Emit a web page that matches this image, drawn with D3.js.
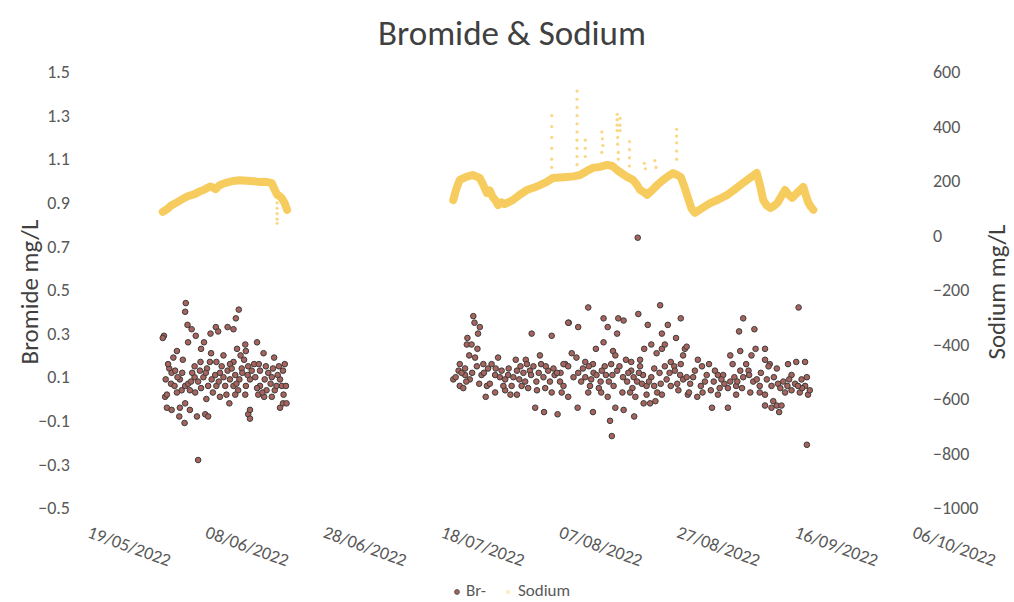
<!DOCTYPE html>
<html>
<head>
<meta charset="utf-8">
<script src="https://cdn.jsdelivr.net/npm/d3@7"></script>
<style>
  body { margin: 0; background: #fff; }
  text { font-family: Calibri, Carlito, "Liberation Sans", Arial, sans-serif; }
</style>
</head>
<body>
<div id="chart"></div>
<script>
// ---------------- data (day = days after 19/05/2022) ----------------
var startDate = "19/05/2022";
var xTickLabels = ["19/05/2022", "08/06/2022", "28/06/2022", "18/07/2022", "07/08/2022", "27/08/2022", "16/09/2022", "06/10/2022"];
var leftTicks = [-0.5, -0.3, -0.1, 0.1, 0.3, 0.5, 0.7, 0.9, 1.1, 1.3, 1.5];
var rightTicks = [-1000, -800, -600, -400, -200, 0, 200, 400, 600];

// Br- (mg/L) [day, value]
var brPoints = [
  [15.4,0.44],[15.3,0.40],[24.4,0.41],[23.9,0.37],[11.7,0.29],[11.5,0.28],[15.7,0.34],[16.4,0.32],[17.1,0.29],[19.6,0.30],
  [20.5,0.33],[20.9,0.31],[22.5,0.33],[23.5,0.32],[15.8,0.26],[18.5,0.26],[27.5,0.26],[13.9,0.22],[18.0,0.23],[19.7,0.21],
  [24.1,0.23],[25.5,0.25],[25.6,0.22],[28.6,0.21],[13.3,0.19],[14.9,0.18],[16.9,0.15],[17.9,0.17],[20.6,0.17],[21.8,0.20],
  [23.5,0.17],[24.7,0.20],[25.3,0.18],[30.4,0.19],[32.2,0.16],[12.6,0.14],[13.0,0.12],[12.0,0.09],[13.6,0.13],[14.4,0.09],
  [15.3,0.06],[16.1,0.04],[16.9,0.10],[18.4,0.10],[19.2,0.06],[19.8,0.09],[20.4,0.11],[21.2,0.12],[21.8,0.10],[22.5,0.13],
  [22.9,0.09],[23.8,0.11],[24.5,0.09],[24.9,0.14],[25.6,0.06],[26.6,0.13],[27.2,0.10],[28.0,0.13],[28.8,0.09],[29.4,0.12],
  [30.0,0.10],[30.5,0.04],[31.4,0.09],[31.9,0.13],[31.7,0.06],[15.8,0.07],[14.7,0.04],[17.5,0.08],[20.6,0.06],[22.1,0.06],
  [23.5,0.06],[24.3,0.04],[26.3,0.09],[28.0,0.06],[29.1,0.04],[11.9,0.01],[12.2,-0.04],[13.0,-0.05],[14.4,-0.04],[15.3,-0.02],
  [16.1,-0.05],[14.3,-0.08],[15.2,-0.11],[17.3,-0.08],[18.7,-0.07],[19.2,-0.08],[22.8,-0.02],[26.0,-0.07],[26.3,-0.09],[26.3,-0.05],
  [27.7,0.02],[28.7,0.01],[31.4,-0.04],[31.9,-0.02],[17.5,-0.28],[12.2,0.02],[13.9,0.03],[18.9,0.00],[21.2,0.01],[23.8,0.02],
  [25.5,0.02],[30.0,0.01],[30.8,0.06],[32.5,-0.02],[32.4,0.06],[12.9,0.07],[14.0,0.10],[16.5,0.12],[18.0,0.05],[19.0,0.14],
  [21.5,0.15],[22.9,0.16],[25.0,0.12],[26.0,0.15],[27.5,0.05],[29.0,0.15],[30.2,0.14],[31.0,0.11],[27.0,0.16],[20.0,0.03],
  [17.8,0.13],[12.4,0.16],[13.5,0.06],[14.8,0.12],[16.3,0.08],[17.0,0.03],[18.8,0.12],[19.5,0.17],[21.0,0.08],[22.3,0.02],
  [23.2,0.14],[24.0,0.07],[25.9,0.11],[27.8,0.16],[28.4,0.03],[29.8,0.07],[31.2,0.15],[32.0,0.02],
  [64.2,0.38],[64.4,0.35],[65.3,0.33],[65.0,0.30],[63.2,0.28],[63.1,0.25],[63.9,0.25],[64.9,0.23],[63.5,0.20],[64.5,0.19],
  [74.1,0.30],[77.5,0.29],[80.4,0.35],[75.5,0.20],[68.4,0.19],[71.4,0.18],[73.1,0.18],[61.9,0.16],[61.7,0.13],[62.8,0.11],
  [60.8,0.09],[61.9,0.06],[63.6,0.09],[64.8,0.15],[65.9,0.16],[66.7,0.14],[67.3,0.16],[67.9,0.11],[68.7,0.10],[69.6,0.09],
  [66.5,0.06],[66.3,0.01],[67.9,0.03],[69.6,0.04],[70.7,0.06],[71.6,0.02],[71.6,0.13],[72.7,0.12],[73.8,0.13],[73.3,0.16],
  [74.4,0.15],[75.7,0.16],[72.4,0.06],[73.5,0.05],[74.9,0.08],[76.1,0.10],[76.9,0.13],[77.8,0.14],[76.4,0.05],[77.5,0.03],
  [78.9,0.08],[79.8,0.16],[74.7,-0.04],[76.2,-0.06],[78.5,-0.07],[67.0,0.07],[70.1,0.11],[71.0,0.10],[62.8,0.14],[65.6,0.11],
  [62.2,0.12],[63.0,0.08],[69.0,0.13],[70.2,0.14],[72.0,0.09],[75.3,0.12],[78.0,0.11],[79.0,0.12],
  [61.2,0.10],[62.5,0.05],[64.0,0.12],[65.2,0.07],[66.0,0.12],[68.0,0.14],[69.3,0.06],[70.5,0.02],[72.2,0.15],[73.0,0.08],
  [74.0,0.11],[75.0,0.04],[76.5,0.15],[77.2,0.08],[78.4,0.12],[79.2,0.03],
  [83.7,0.42],[80.3,0.35],[82.0,0.33],[86.3,0.37],[88.8,0.37],[89.7,0.36],[92.2,0.39],[95.9,0.43],[99.4,0.37],[87.0,0.33],
  [88.6,0.30],[93.8,0.34],[97.2,0.34],[96.2,0.30],[98.6,0.28],[86.3,0.26],[85.0,0.23],[94.4,0.25],[93.2,0.23],[87.9,0.22],
  [88.3,0.20],[80.9,0.21],[81.7,0.19],[95.3,0.21],[96.2,0.23],[96.7,0.25],[100.1,0.23],[99.8,0.20],[83.2,0.17],[84.5,0.16],
  [86.5,0.15],[87.6,0.16],[90.1,0.18],[91.0,0.17],[92.5,0.18],[92.5,0.15],[97.7,0.17],[98.3,0.15],[99.4,0.16],[79.5,0.16],
  [80.3,0.15],[82.0,0.12],[83.8,0.15],[84.6,0.12],[85.1,0.11],[86.7,0.11],[88.6,0.13],[89.6,0.10],[91.0,0.13],[91.4,0.10],
  [93.0,0.11],[94.4,0.10],[94.9,0.14],[96.7,0.15],[98.4,0.13],[99.3,0.11],[99.8,0.09],[79.5,0.06],[80.3,0.01],[83.2,0.10],
  [84.0,0.06],[83.7,0.03],[85.5,0.05],[85.9,0.03],[87.0,0.01],[87.2,0.08],[89.5,0.03],[90.3,0.08],[91.2,0.05],[91.7,0.01],
  [92.8,0.07],[93.6,0.06],[93.6,0.02],[94.9,0.06],[95.4,0.03],[96.2,0.02],[95.1,-0.01],[94.2,-0.02],[93.1,-0.02],[97.7,0.06],
  [100.6,0.02],[81.9,-0.04],[84.5,-0.06],[88.3,-0.04],[89.7,-0.05],[91.5,-0.08],[87.4,-0.10],[87.7,-0.17],[92.1,0.74],
  [90.5,0.12],[92.0,0.08],[95.8,0.12],[97.0,0.09],[98.8,0.07],[82.5,0.08],[85.8,0.08],[88.0,0.06],
  [81.2,0.10],[82.8,0.14],[84.2,0.09],[86.0,0.13],[87.8,0.11],[89.0,0.15],[90.8,0.03],[92.3,0.12],[94.0,0.08],[96.0,0.07],
  [97.5,0.12],[99.0,0.04],
  [119.4,0.42],[110.0,0.37],[109.3,0.31],[111.9,0.32],[100.4,0.24],[107.8,0.20],[109.5,0.22],[112.1,0.23],[113.7,0.23],[111.4,0.20],
  [102.3,0.18],[103.0,0.15],[104.2,0.16],[108.2,0.16],[110.5,0.16],[113.7,0.18],[114.5,0.16],[117.6,0.16],[119.0,0.17],[120.5,0.17],
  [115.7,0.14],[114.3,0.15],[109.5,0.13],[110.9,0.13],[100.4,0.10],[101.5,0.10],[103.8,0.11],[105.7,0.11],[106.6,0.11],[108.5,0.10],
  [110.0,0.10],[111.7,0.08],[112.3,0.09],[118.2,0.11],[119.9,0.09],[120.5,0.06],[100.8,0.03],[102.2,0.01],[103.1,0.03],[104.5,0.04],
  [105.7,0.02],[106.8,0.07],[107.4,0.05],[108.8,0.06],[108.8,0.02],[111.2,0.03],[112.8,0.03],[113.7,0.02],[114.8,0.06],[115.9,0.07],
  [116.8,0.08],[117.1,0.03],[118.2,0.04],[119.6,0.03],[121.0,0.02],[115.1,-0.01],[115.7,-0.03],[116.5,-0.03],[113.7,-0.03],[114.8,-0.04],
  [104.7,-0.04],[107.4,-0.04],[116.1,-0.06],[120.8,-0.21],
  [101.0,0.07],[102.8,0.06],[105.0,0.08],[106.0,0.05],[109.0,0.08],[112.8,0.06],[117.5,0.06],[118.8,0.07],[120.0,0.05],[121.3,0.04],
  [101.8,0.13],[103.5,0.08],[105.2,0.13],[106.3,0.09],[107.8,0.08],[109.8,0.05],[111.0,0.11],[113.0,0.12],[114.0,0.09],[115.2,0.10],
  [116.3,0.05],[117.8,0.09],[119.3,0.06],[120.8,0.10]
];

// Sodium (mg/L) [day, value], two logging periods
var sodiumPart1 = [
  [11.5,87],[12.3,98],[12.8,108],[13.6,118],[14.4,128],[15.2,138],[16.0,146],[16.9,152],[17.8,162],[18.5,168],
  [19.0,174],[19.6,180],[20.0,176],[20.5,170],[21.0,182],[21.7,190],[22.5,195],[23.4,200],[24.6,203],[25.8,201],
  [27.0,199],[28.0,196],[29.0,197],[30.0,192],[30.4,172],[30.9,150],[31.3,145],[31.7,137],[32.2,118],[32.6,94]
];
var sodiumPart2 = [
  [60.8,130],[61.3,170],[61.9,204],[63.0,215],[64.1,222],[65.3,211],[65.9,185],[66.5,156],[67.0,165],[67.5,141],
  [68.0,128],[68.4,112],[69.0,122],[69.5,115],[70.2,122],[70.9,130],[72.0,148],[73.3,167],[74.4,175],[75.5,185],
  [76.6,196],[77.7,211],[78.9,213],[80.1,215],[81.2,217],[82.3,222],[83.4,236],[84.5,248],[85.7,252],[86.9,259],
  [87.8,255],[88.6,240],[89.4,228],[90.3,215],[91.3,204],[91.9,188],[92.5,167],[93.1,160],[93.7,149],[94.5,165],
  [95.4,185],[96.2,200],[97.1,215],[98.1,229],[98.8,222],[99.4,215],[100.0,180],[100.6,140],[101.2,100],[101.8,83],
  [103.0,100],[104.4,119],[105.8,132],[107.3,149],[108.6,170],[110.0,193],[111.2,212],[112.3,229],[112.9,180],[113.4,130],
  [114.0,110],[114.6,101],[115.2,108],[115.8,119],[116.5,145],[117.1,167],[117.7,150],[118.3,138],[119.2,158],[120.2,178],
  [120.6,150],[121.0,123],[121.5,105],[121.9,94]
];
// isolated sodium readings (spikes / dips)
var sodiumSpikes = [
  [77.5,440],[77.5,400],[77.5,360],[77.5,320],[77.5,280],[77.5,250],
  [81.8,530],[81.8,500],[81.8,470],[81.8,440],[81.8,410],[81.8,380],[81.8,350],[81.8,320],[81.8,290],[81.8,260],
  [83.2,350],[83.2,320],[83.2,290],
  [86.0,380],[86.1,355],[86.2,330],[86.0,305],
  [88.6,445],[88.6,425],[88.6,405],[88.6,385],[88.7,360],[88.7,335],[88.8,305],[88.8,280],
  [89.1,430],[89.1,405],[89.1,385],
  [90.7,345],[90.7,315],[90.7,285],[90.7,255],
  [93.2,265],[93.4,245],[95.0,275],[95.2,250],
  [98.7,390],[98.7,365],[98.7,340],[98.7,310],[98.7,280],
  [30.9,140],[30.9,120],[30.9,100],[30.9,80],[30.9,60],[30.9,45]
];

function renderChart() {
  var attrs = {
    svgWidth: 1014,
    svgHeight: 602,
    marginTop: 72,
    marginBottom: 94,
    marginLeft: 95,
    marginRight: 94,
    brFill: '#a8645c',
    brStroke: '#3c3c3c',
    sodiumColor: '#f6c64e',
    textColor: '#595959',
    titleColor: '#404040'
  };

  var calc = {};
  calc.chartWidth = attrs.svgWidth - attrs.marginLeft - attrs.marginRight;
  calc.chartHeight = attrs.svgHeight - attrs.marginTop - attrs.marginBottom;

  var parseDate = d3.timeParse("%d/%m/%Y");
  var base = parseDate(startDate);
  function dayToDate(d) { return new Date(base.getTime() + d * 864e5); }
  var tickDates = xTickLabels.map(parseDate);

  // scales
  var scales = {};
  scales.x = d3.scaleTime().domain([tickDates[0], tickDates[tickDates.length - 1]]).range([0, calc.chartWidth]);
  scales.yLeft = d3.scaleLinear().domain([-0.5, 1.5]).range([calc.chartHeight, 0]);
  scales.yRight = d3.scaleLinear().domain([-1000, 600]).range([calc.chartHeight, 0]);

  var svg = d3.select('#chart').append('svg')
    .attr('width', attrs.svgWidth)
    .attr('height', attrs.svgHeight);

  // title
  svg.append('text')
    .attr('x', 512).attr('y', 45)
    .attr('text-anchor', 'middle')
    .attr('fill', attrs.titleColor)
    .style('font-size', '35px')
    .text('Bromide & Sodium');

  var chart = svg.append('g')
    .attr('transform', 'translate(' + attrs.marginLeft + ',' + attrs.marginTop + ')');

  // axes (labels only, no lines)
  var leftAxis = chart.append('g')
    .call(d3.axisLeft(scales.yLeft).tickValues(leftTicks).tickFormat(d3.format('.1f')).tickSize(0).tickPadding(25));
  var rightAxis = chart.append('g')
    .attr('transform', 'translate(' + calc.chartWidth + ',0)')
    .call(d3.axisRight(scales.yRight).tickValues(rightTicks).tickFormat(d3.format('d')).tickSize(0).tickPadding(13));
  var bottomAxis = chart.append('g')
    .attr('transform', 'translate(0,' + calc.chartHeight + ')')
    .call(d3.axisBottom(scales.x).tickValues(tickDates).tickFormat(d3.timeFormat('%d/%m/%Y')).tickSize(0));

  [leftAxis, rightAxis, bottomAxis].forEach(function (a) {
    a.select('.domain').remove();
    a.selectAll('text').attr('fill', attrs.textColor).style('font-size', '18px');
  });
  bottomAxis.selectAll('text')
    .attr('x', 0).attr('y', 0).attr('dy', 0)
    .style('text-anchor', 'start')
    .attr('transform', 'translate(-9,29) rotate(20)');

  // axis titles
  svg.append('text')
    .attr('transform', 'translate(38,292) rotate(-90)')
    .attr('text-anchor', 'middle')
    .attr('fill', attrs.titleColor)
    .style('font-size', '25px')
    .text('Bromide mg/L');
  svg.append('text')
    .attr('transform', 'translate(1005,292) rotate(-90)')
    .attr('text-anchor', 'middle')
    .attr('fill', attrs.titleColor)
    .style('font-size', '25px')
    .text('Sodium mg/L');

  // sodium series
  var line = d3.line()
    .x(function (d) { return scales.x(dayToDate(d[0])); })
    .y(function (d) { return scales.yRight(d[1]); });

  chart.selectAll('.sodium-line')
    .data([sodiumPart1, sodiumPart2])
    .enter().append('path')
    .attr('class', 'sodium-line')
    .attr('d', line)
    .attr('fill', 'none')
    .attr('stroke', attrs.sodiumColor)
    .attr('stroke-width', 8)
    .attr('stroke-linejoin', 'round')
    .attr('stroke-linecap', 'round')
    .attr('opacity', 0.9);

  chart.selectAll('.sodium-spike')
    .data(sodiumSpikes)
    .enter().append('circle')
    .attr('class', 'sodium-spike')
    .attr('cx', function (d) { return scales.x(dayToDate(d[0])); })
    .attr('cy', function (d) { return scales.yRight(d[1]); })
    .attr('r', 1.6)
    .attr('fill', attrs.sodiumColor)
    .attr('opacity', 0.7);

  // bromide points
  chart.selectAll('.br-point')
    .data(brPoints)
    .enter().append('circle')
    .attr('class', 'br-point')
    .attr('cx', function (d) { return scales.x(dayToDate(d[0])); })
    .attr('cy', function (d) { return scales.yLeft(d[1]); })
    .attr('r', 2.8)
    .attr('fill', attrs.brFill)
    .attr('stroke', attrs.brStroke)
    .attr('stroke-width', 1);

  // legend
  var legend = svg.append('g').attr('transform', 'translate(0,592)');
  legend.append('circle').attr('cx', 457).attr('cy', 0).attr('r', 2.4)
    .attr('fill', attrs.brFill).attr('stroke', attrs.brStroke).attr('stroke-width', 0.8);
  legend.append('text').attr('x', 466).attr('y', 4).attr('fill', attrs.textColor)
    .style('font-size', '17px').text('Br-');
  legend.append('rect').attr('x', 506).attr('y', -2).attr('width', 4).attr('height', 4)
    .attr('fill', '#fbefc8');
  legend.append('text').attr('x', 518).attr('y', 4).attr('fill', attrs.textColor)
    .style('font-size', '17px').text('Sodium');
}

renderChart();
</script>
</body>
</html>
